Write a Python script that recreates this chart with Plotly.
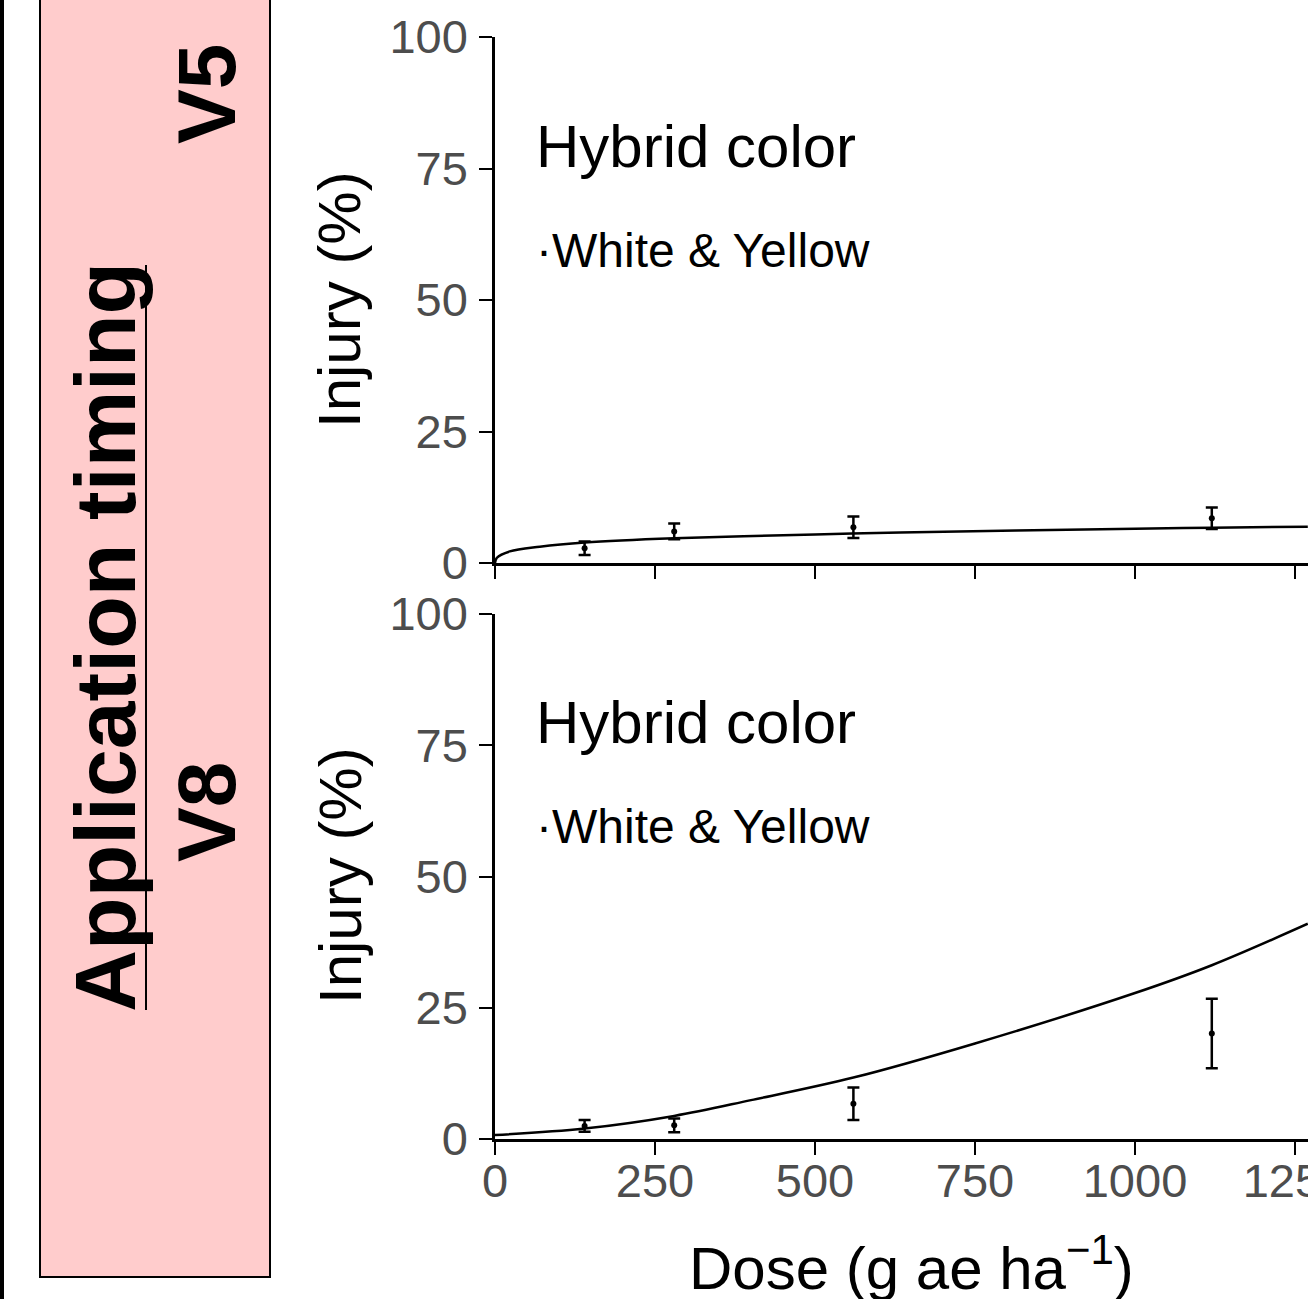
import plotly.graph_objects as go

# ---------------- data ----------------
doses = [140, 280, 560, 1120]

v5_mean = [2.8, 6.0, 6.8, 8.5]
v5_se = [1.3, 1.5, 2.05, 2.05]
v5_curve_dose = [0, 3, 23, 70, 140, 280, 500, 633, 1000, 1120, 1270]
v5_curve_inj = [0, 1.0, 2.2, 3.1, 3.9, 4.7, 5.4, 5.8, 6.5, 6.7, 6.9]

v8_mean = [2.5, 2.6, 6.7, 20.1]
v8_se = [1.1, 1.3, 3.1, 6.6]
v8_curve_dose = [0, 140, 280, 400, 560, 750, 1000, 1120, 1270]
v8_curve_inj = [0.76, 2.0, 4.4, 7.4, 11.7, 18.2, 27.8, 33.1, 41.0]

x_ticks = [0, 250, 500, 750, 1000, 1250]
y_ticks = [0, 25, 50, 75, 100]
timings = ["V5", "V8"]

# ---------------- geometry ----------------
W, H = 1308, 1299
ML = 495
PW = W - ML
XMAX = PW / 0.64


def px_x(p):
    return (p - ML) / PW


def px_y(p):
    return (H - p) / H


FONT = "Liberation Sans, Arial, Helvetica, sans-serif"
TICKGREY = "#4D4D4D"

fig = go.Figure()

panels = [
    ("x", "y", v5_mean, v5_se, v5_curve_dose, v5_curve_inj),
    ("x2", "y2", v8_mean, v8_se, v8_curve_dose, v8_curve_inj),
]
for xa, ya, m, se, cd, ci in panels:
    fig.add_trace(go.Scatter(
        x=cd, y=ci, xaxis=xa, yaxis=ya, mode="lines",
        line=dict(color="black", width=2.5, shape="spline", smoothing=1.0),
        showlegend=False, hoverinfo="skip", cliponaxis=True))
    fig.add_trace(go.Scatter(
        x=doses, y=m, xaxis=xa, yaxis=ya, mode="markers",
        marker=dict(color="black", size=6),
        error_y=dict(type="data", array=se, color="black", thickness=2.5, width=6),
        showlegend=False, cliponaxis=False))

axis_common = dict(
    showgrid=False, zeroline=False, showline=True, linecolor="black", linewidth=2.5,
    ticks="outside", ticklen=13, tickwidth=2, tickcolor="black", automargin=False,
    tickfont=dict(family=FONT, size=47, color=TICKGREY),
)

top_dom = [px_y(563), px_y(37)]
bot_dom = [px_y(1139), px_y(614)]

fig.update_layout(
    width=W, height=H,
    margin=dict(l=ML, r=0, t=0, b=0, autoexpand=False),
    paper_bgcolor="white", plot_bgcolor="white",
    showlegend=False,
    xaxis=dict(domain=[0, 1], range=[0, XMAX], tickvals=x_ticks, showticklabels=False,
               anchor="y", **axis_common),
    yaxis=dict(domain=top_dom, range=[0, 100], tickvals=y_ticks, anchor="x",
               ticklabelstandoff=2, **axis_common),
    xaxis2=dict(domain=[0, 1], range=[0, XMAX], tickvals=x_ticks, anchor="y2",
                ticklabeloverflow="allow", ticklabelstandoff=-14, **axis_common),
    yaxis2=dict(domain=bot_dom, range=[0, 100], tickvals=y_ticks, anchor="x2",
                ticklabelstandoff=2, **axis_common),
)

ann = []
# y titles
for cy in [300, 876]:
    ann.append(dict(text="Injury (%)", x=px_x(340), y=px_y(cy), xref="paper", yref="paper",
                    showarrow=False, textangle=-90, xanchor="center", yanchor="middle",
                    font=dict(family=FONT, size=60, color="black")))
# x title
ann.append(dict(text="Dose (g ae ha<sup>\u22121</sup>)", x=px_x(911), y=px_y(1264),
                xref="paper", yref="paper", showarrow=False, xanchor="center", yanchor="middle",
                font=dict(family=FONT, size=60, color="black")))
# legend-like labels
for cy1, cy2 in [(147, 250), (722, 827)]:
    ann.append(dict(text="Hybrid color", x=px_x(534), y=px_y(cy1), xref="paper", yref="paper",
                    showarrow=False, xanchor="left", yanchor="middle",
                    font=dict(family=FONT, size=60, color="black")))
    ann.append(dict(text="\u00b7White & Yellow", x=px_x(534), y=px_y(cy2), xref="paper",
                    yref="paper", showarrow=False, xanchor="left", yanchor="middle",
                    font=dict(family=FONT, size=48, color="black")))
# strip texts
ann.append(dict(text="<b>Application timing</b>", x=px_x(105), y=px_y(637), xref="paper",
                yref="paper", showarrow=False, textangle=-90, xanchor="center", yanchor="middle",
                font=dict(family=FONT, size=86, color="black")))
for t, cy in zip(timings, [94, 812]):
    ann.append(dict(text="<b>%s</b>" % t, x=px_x(206), y=px_y(cy), xref="paper", yref="paper",
                    showarrow=False, textangle=-90, xanchor="center", yanchor="middle",
                    font=dict(family=FONT, size=82, color="black")))
fig.update_layout(annotations=ann)

shapes = [
    dict(type="rect", xref="paper", yref="paper", x0=px_x(0), x1=px_x(4), y0=px_y(H + 5),
         y1=px_y(-5), fillcolor="black", line=dict(width=0), layer="below"),
    dict(type="rect", xref="paper", yref="paper", x0=px_x(40), x1=px_x(270), y0=px_y(1277),
         y1=px_y(-5), fillcolor="#FFCCCC", line=dict(color="black", width=2), layer="below"),
    dict(type="line", xref="paper", yref="paper", x0=px_x(146), x1=px_x(146), y0=px_y(1010),
         y1=px_y(265), line=dict(color="black", width=2)),
]
fig.update_layout(shapes=shapes)

fig.write_html("out.html", config={"displayModeBar": False},
               post_script="document.body.style.margin='0';document.body.style.overflow='hidden';")
